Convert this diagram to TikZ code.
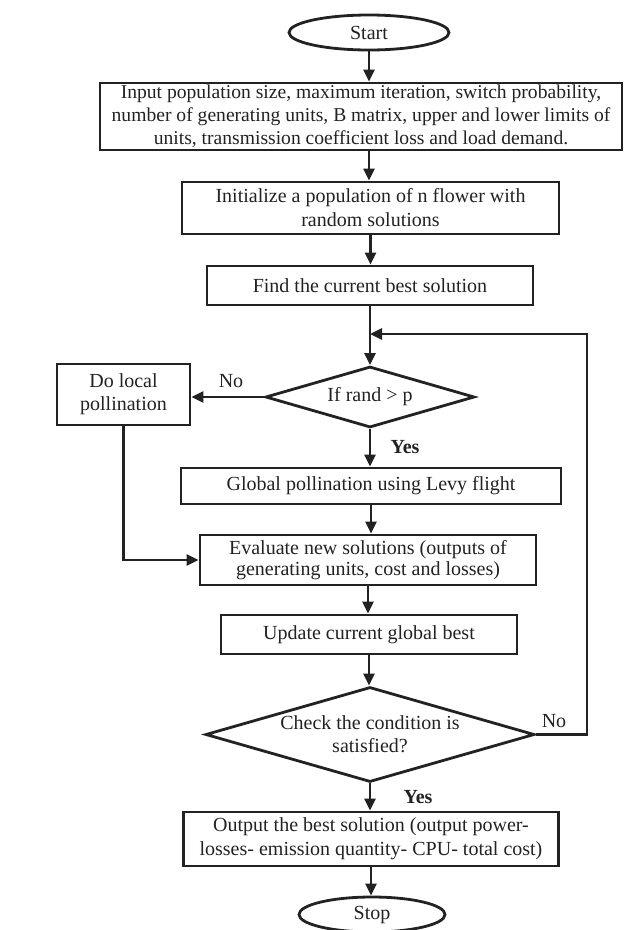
\documentclass[tikz,border=0pt]{standalone}
\usepackage{fontspec}
\setmainfont{Liberation Serif}
\usetikzlibrary{arrows.meta,shapes.geometric}
\definecolor{ln}{HTML}{222222}
\begin{document}
\begin{tikzpicture}[x=1pt,y=-1pt,line width=2.8pt,
  every node/.style={text=ln},
  txt/.style={font=\fontsize{20}{23}\selectfont, align=center, inner sep=0pt},
  box/.style={txt, draw=ln, rectangle},
  term/.style={txt, draw=ln, ellipse},
  dia/.style={draw=ln, diamond, inner sep=0pt},
  lbl/.style={font=\fontsize{20}{23}\selectfont, inner sep=0pt},
  blbl/.style={font=\fontsize{20}{23}\selectfont\bfseries, inner sep=0pt},
  arr/.style={draw=ln, -{Triangle[length=12pt,width=11pt]}}]
\useasboundingbox (0,0) rectangle (624,930);
\clip (0,0) rectangle (624,930);
\node[term, minimum width=160pt, minimum height=35pt] (start) at (369,32.5) {Start};
\node[box, minimum width=522pt, minimum height=67pt, font=\fontsize{19.6}{23}\selectfont] (inp) at (361,116.5) {Input population size, maximum iteration, switch probability,\\number of generating units, B matrix, upper and lower limits of\\units, transmission coefficient loss and load demand.};
\node[box, minimum width=377pt, minimum height=52pt, font=\fontsize{20}{24}\selectfont] (init) at (370.5,208) {Initialize a population of n flower with\\random solutions};
\node[box, minimum width=326pt, minimum height=39pt] (find) at (370,285.5) {Find the current best solution};
\node[dia, minimum width=209pt, minimum height=61pt] (d1) at (370,397) {};
\node[txt] (t1) at (d1) {If rand > p};
\node[box, minimum width=133pt, minimum height=61pt] (local) at (123.5,394.5) {Do local\\pollination};
\node[box, minimum width=380pt, minimum height=36pt] (glob) at (371,486) {Global pollination using Levy flight};
\node[box, minimum width=336pt, minimum height=50pt, font=\fontsize{20}{20.5}\selectfont] (eval) at (368,560) {Evaluate new solutions (outputs of\\generating units, cost and losses)};
\node[box, minimum width=296pt, minimum height=39pt] (upd) at (369,634.5) {Update current global best};
\node[dia, minimum width=329pt, minimum height=95pt] (d2) at (370,734.5) {};
\node[txt] (t2) at (d2) {Check the condition is\\satisfied?};
\node[box, minimum width=375pt, minimum height=54pt, font=\fontsize{20}{24}\selectfont] (out) at (371,839) {Output the best solution (output power-\\losses- emission quantity- CPU- total cost)};
\node[term, minimum width=146pt, minimum height=35pt] (stop) at (372,914.5) {Stop};
\node[lbl] (no1) at (231,381) {No};
\node[blbl] (yes1) at (405,447) {Yes};
\node[lbl] (no2) at (554,721) {No};
\node[blbl] (yes2) at (418,797) {Yes};
\coordinate (rc) at (587,334);
\coordinate (jn) at (370,334);
\draw[arr] (start.south) -- (start.south |- inp.north);
\draw[arr] (start.south |- inp.south) -- (start.south |- init.north);
\draw[arr] (init.south) -- (init.south |- find.north);
\draw[arr] (find.south) -- (d1.north);
\draw[arr] (d1.west) -- (d1.west -| local.east);
\draw[arr] (d1.south) -- (d1.south |- glob.north);
\draw[arr] (glob.south) -- (glob.south |- eval.north);
\draw[arr] (local.south) |- (eval.west);
\draw[arr] (eval.south) -- (eval.south |- upd.north);
\draw[arr] (upd.south) -- (upd.south |- d2.north);
\draw[arr] (d2.east) -| (rc) -- (jn);
\draw[arr] (d2.south) -- (d2.south |- out.north);
\draw[arr] (out.south) -- (out.south |- stop.north);
\end{tikzpicture}
\end{document}
